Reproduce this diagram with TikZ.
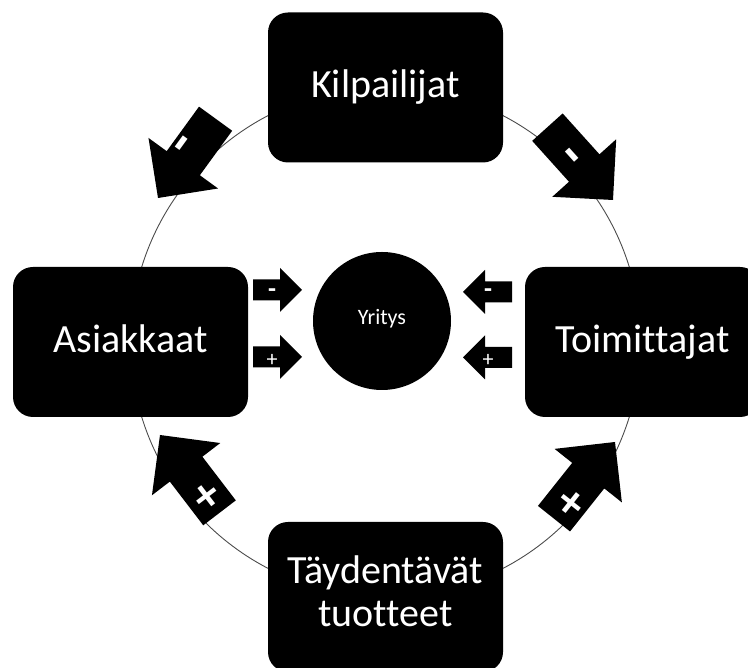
\documentclass[tikz,border=0pt]{standalone}
\usepackage{fontspec}
\setmainfont{Carlito}[Ligatures=NoCommon]
\begin{document}
\begin{tikzpicture}[x=1pt,y=1pt,
  box/.style={fill=black, rounded corners=20pt, minimum width=235pt, minimum height=150pt,
    inner sep=0pt, text=white, font=\fontsize{40}{43}\selectfont, align=center},
  oneline/.style={text height=28pt, text depth=7pt},
  ringline/.style={draw=black!70, line width=0.9pt},
  core/.style={circle, fill=black, minimum size=138pt, inner sep=0pt, text=white,
    font=\fontsize{22}{24}\selectfont, text height=14pt, text depth=7pt},
  sign/.style={text=white, inner sep=0pt, font=\fontsize{22}{24}\selectfont},
  signb/.style={sign, font=\bfseries\fontsize{26}{28}\selectfont},
  bigsign/.style={text=white, inner sep=0pt, font=\bfseries\fontsize{56}{58}\selectfont},
  bigplus/.style={text=white, inner sep=0pt, font=\bfseries\fontsize{48}{50}\selectfont},
  bigarrow/.pic={\fill[black] (0,0) -- (-43,43) -- (-43,20.5) -- (-98,20.5) -- (-98,-20.5)
    -- (-43,-20.5) -- (-43,-43) -- cycle;},
  smallarrow/.pic={\fill[black] (0,0) -- (-22,22) -- (-22,10.5) -- (-49,10.5) -- (-49,-10.5)
    -- (-22,-10.5) -- (-22,-22) -- cycle;}
]
\useasboundingbox (0,0) rectangle (748,668);
\clip (0,0) rectangle (748,668);

% ring
\coordinate (ringc) at (385.5,326);
\draw[ringline] (ringc) circle (255);

% boxes
\node[box, oneline] (kil) at (385.5,580.5) {Kilpailijat};
\node[box, oneline] (asi) at (130.5,326) {Asiakkaat};
\node[box, oneline] (toi) at (642.5,326) {Toimittajat};
\node[box] (tay) at (385.5,71) {Täydentävät\\tuotteet\rule[-11pt]{0pt}{0pt}};

% centre
\node[core] (yri) at (382,347) {Yritys};

% big arrows
\pic at (158,470) [rotate=234] {bigarrow};
\pic at (613,468) [rotate=-48] {bigarrow};
\pic at (160,233) [rotate=127.4] {bigarrow};
\pic at (615,226) [rotate=51.5] {bigarrow};

\node[bigsign, rotate=54] (s1) at (187,521) {-};
\node[bigsign, rotate=-48] (s2) at (567,508) {-};
\node[bigplus, rotate=37.4] (s3) at (208,170) {+};
\node[bigplus, rotate=-38.5] (s4) at (570,163) {+};

% small arrows
\pic at (302,378) {smallarrow};
\pic at (302,311) {smallarrow};
\pic at (463,376) [rotate=180] {smallarrow};
\pic at (463,310.5) [rotate=180] {smallarrow};

\node[signb] (m1) at (272,375) {-};
\node[sign] (p1) at (272,308) {+};
\node[signb] (m2) at (488,375) {-};
\node[sign] (p2) at (488,308) {+};
\end{tikzpicture}
\end{document}
